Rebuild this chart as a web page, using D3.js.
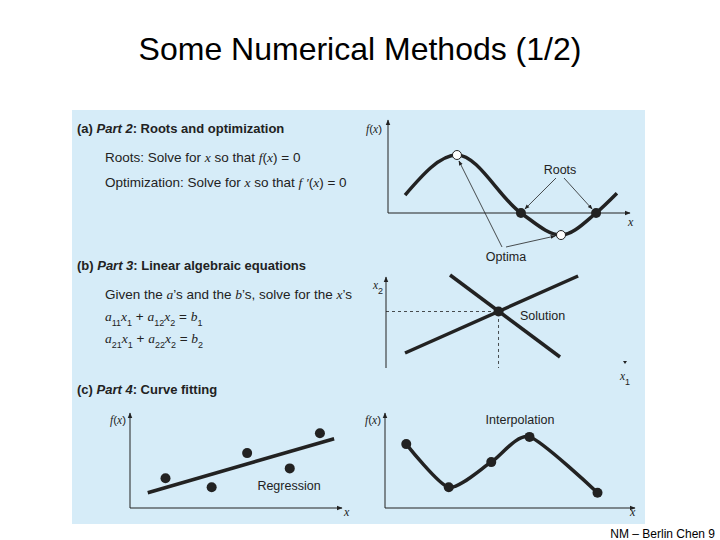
<!DOCTYPE html>
<html><head><meta charset="utf-8">
<script src="https://cdn.jsdelivr.net/npm/d3@7"></script>
<style>body{margin:0;background:#fff}text{font-family:Arial,"Liberation Sans",sans-serif}</style>
</head><body>
<svg id="c" width="720" height="540"></svg>
<script>
// (a) roots and optima curve
const rootCurve = [[0.72,0.31],[2.91,1],[5.61,0],[7.3,-0.38],[8.78,0],[9.66,0.34]];
const optima = [[2.91,1],[7.3,-0.38]];
const roots = [[5.61,0],[8.78,0]];
// (b) two lines and solution
const lineA = [[0.82,1.5],[8.28,9.2]];
const lineB = [[2.76,9.3],[7.5,1.1]];
const solution = [4.85,5.65];
// (c) regression points and fit
const regPts = [[2,3.3],[4.6,2.3],[6.6,6.1],[9.0,4.4],[10.7,8.3]];
const regLine = [[1,1.7],[11.5,7.7]];
// (c) interpolation points
const interpPts = [[1,7.1],[3,2.3],[5,5.1],[6.8,7.9],[10,1.7]];

const svg = d3.select('#c');
const ink = '#222';
svg.append('text').attr('x',360).attr('y',60).attr('text-anchor','middle').attr('font-size',32).text('Some Numerical Methods (1/2)');
svg.append('rect').attr('x',72).attr('y',110).attr('width',573).attr('height',414).attr('fill','#d6ecf8');
svg.append('text').attr('x',715).attr('y',538).attr('text-anchor','end').attr('font-size',12).text('NM – Berlin Chen 9');

const defs = svg.append('defs');
defs.append('marker').attr('id','ar').attr('viewBox','0 0 10 10').attr('refX',9).attr('refY',5)
  .attr('markerWidth',6).attr('markerHeight',6).attr('orient','auto')
  .append('path').attr('d','M0,1L10,5L0,9z').attr('fill',ink);

function txt(x,y,s,opts={}){
  const t=svg.append('text').attr('x',x).attr('y',y).attr('font-size',opts.size||13.5).attr('fill',ink)
    .attr('text-anchor',opts.anchor||'start');
  if(opts.bold) t.attr('font-weight','bold');
  if(typeof s==='string') t.text(s); else s.forEach(p=>{const ts=t.append('tspan').text(p[0]); if(p[1]) ts.attr('font-style','italic').attr('font-family','Liberation Serif,serif'); if(p[2]) ts.attr('font-weight','bold').attr('font-style','italic'); if(p[3]) ts.attr('baseline-shift','sub').attr('font-size',9);});
  return t;
}
function axes(x0,y0,top,right,noX){
  svg.append('line').attr('x1',x0).attr('x2',x0).attr('y1',y0).attr('y2',top).attr('stroke',ink).attr('stroke-width',1).attr('marker-end','url(#ar)');
  if(!noX) svg.append('line').attr('x1',x0).attr('x2',right).attr('y1',y0).attr('y2',y0).attr('stroke',ink).attr('marker-end','url(#ar)');
}
function arrow(x1,y1,x2,y2){svg.append('line').attr('x1',x1).attr('y1',y1).attr('x2',x2).attr('y2',y2).attr('stroke',ink).attr('stroke-width',0.8).attr('marker-end','url(#ar)');}

// left texts
txt(77,133,[['(a) '],['Part 2',0,1],[': Roots and optimization']],{bold:true,size:13});
txt(105,162,[['Roots: Solve for '],['x',1],[' so that '],['f',1],['('],['x',1],[') = 0']]);
txt(105,187,[['Optimization: Solve for '],['x',1],[' so that '],['f \u2032',1],['('],['x',1],[') = 0']]);
txt(77,270,[['(b) '],['Part 3',0,1],[': Linear algebraic equations']],{bold:true,size:13});
txt(105,299,[['Given the '],['a',1],['\u2019s and the '],['b',1],['\u2019s, solve for the '],['x',1],['\u2019s']]);
txt(105,321,[['a',1],['11',0,0,1],['x',1],['1',0,0,1],[' + '],['a',1],['12',0,0,1],['x',1],['2',0,0,1],[' = '],['b',1],['1',0,0,1]]);
txt(105,343,[['a',1],['21',0,0,1],['x',1],['1',0,0,1],[' + '],['a',1],['22',0,0,1],['x',1],['2',0,0,1],[' = '],['b',1],['2',0,0,1]]);
txt(77,394,[['(c) '],['Part 4',0,1],[': Curve fitting']],{bold:true,size:13});

// (a)
{
  const x=d3.scaleLinear().domain([0,10]).range([388,625]);
  const y=d3.scaleLinear().domain([0,1]).range([213,155]);
  axes(388,213,120,630);
  txt(374,133,[['f',1],['('],['x',1],[')']],{size:11.5,anchor:'middle'});
  txt(628,226,[['x',1]],{size:12});
  svg.append('path').attr('d',d3.line().x(d=>x(d[0])).y(d=>y(d[1])).curve(d3.curveMonotoneX)(rootCurve))
    .attr('fill','none').attr('stroke',ink).attr('stroke-width',3.5);
  svg.selectAll('.rt').data(roots).join('circle').attr('cx',d=>x(d[0])).attr('cy',d=>y(d[1])).attr('r',5).attr('fill',ink);
  svg.selectAll('.op').data(optima).join('circle').attr('cx',d=>x(d[0])).attr('cy',d=>y(d[1])).attr('r',4.5).attr('fill','#fff').attr('stroke',ink);
  txt(560,174,'Roots',{anchor:'middle',size:12.5});
  arrow(556,178,x(roots[0][0])+4,y(0)-4);
  arrow(564,178,x(roots[1][0])-4,y(0)-4);
  txt(506,261,'Optima',{anchor:'middle',size:12.5});
  arrow(502,247,x(optima[0][0])+2,y(optima[0][1])+6);
  arrow(506,247,x(optima[1][0])-6,y(optima[1][1])+1);
}
// (b)
{
  const x=d3.scaleLinear().domain([0,10]).range([386,618]);
  const y=d3.scaleLinear().domain([0,10]).range([368,268]);
  axes(386,368,277,0,true);
  txt(378,289,[['x',1],['2',0,0,1]],{size:11.5,anchor:'middle'});
  txt(625,380,[['x',1],['1',0,0,1]],{size:11.5,anchor:'middle'});
  svg.append('path').attr('d','M625,364l-2,-3h4z').attr('fill',ink);
  const ln=d3.line().x(d=>x(d[0])).y(d=>y(d[1]));
  [lineA,lineB].forEach(l=>svg.append('path').attr('d',ln(l)).attr('stroke',ink).attr('stroke-width',3.5).attr('fill','none'));
  svg.append('path').attr('d',`M${x(0)},${y(solution[1])}H${x(solution[0])}V${y(0)}`).attr('fill','none').attr('stroke',ink).attr('stroke-dasharray','3,3').attr('stroke-width',0.8);
  svg.append('circle').attr('cx',x(solution[0])).attr('cy',y(solution[1])).attr('r',5).attr('fill',ink);
  txt(520,320,'Solution',{size:12.5});
}
// (c) regression
{
  const x=d3.scaleLinear().domain([0,12]).range([130,343]);
  const y=d3.scaleLinear().domain([0,10]).range([508,418]);
  axes(130,508,413,342);
  txt(118,424,[['f',1],['('],['x',1],[')']],{size:11.5,anchor:'middle'});
  txt(344,516,[['x',1]],{size:12});
  svg.append('path').attr('d',d3.line().x(d=>x(d[0])).y(d=>y(d[1]))(regLine)).attr('stroke',ink).attr('stroke-width',3.5);
  svg.selectAll('.rg').data(regPts).join('circle').attr('cx',d=>x(d[0])).attr('cy',d=>y(d[1])).attr('r',5).attr('fill',ink);
  txt(289,490,'Regression',{anchor:'middle',size:12.5});
}
// (c) interpolation
{
  const x=d3.scaleLinear().domain([0,12]).range([385,640]);
  const y=d3.scaleLinear().domain([0,10]).range([508,418]);
  axes(385,508,413,635);
  txt(373,424,[['f',1],['('],['x',1],[')']],{size:11.5,anchor:'middle'});
  txt(630,516,[['x',1]],{size:12});
  svg.append('path').attr('d',d3.line().x(d=>x(d[0])).y(d=>y(d[1])).curve(d3.curveCardinal.tension(0.3))(interpPts))
    .attr('fill','none').attr('stroke',ink).attr('stroke-width',3.5);
  svg.selectAll('.ip').data(interpPts).join('circle').attr('cx',d=>x(d[0])).attr('cy',d=>y(d[1])).attr('r',5).attr('fill',ink);
  txt(520,424,'Interpolation',{anchor:'middle',size:12.5});
}
</script>
</body></html>
